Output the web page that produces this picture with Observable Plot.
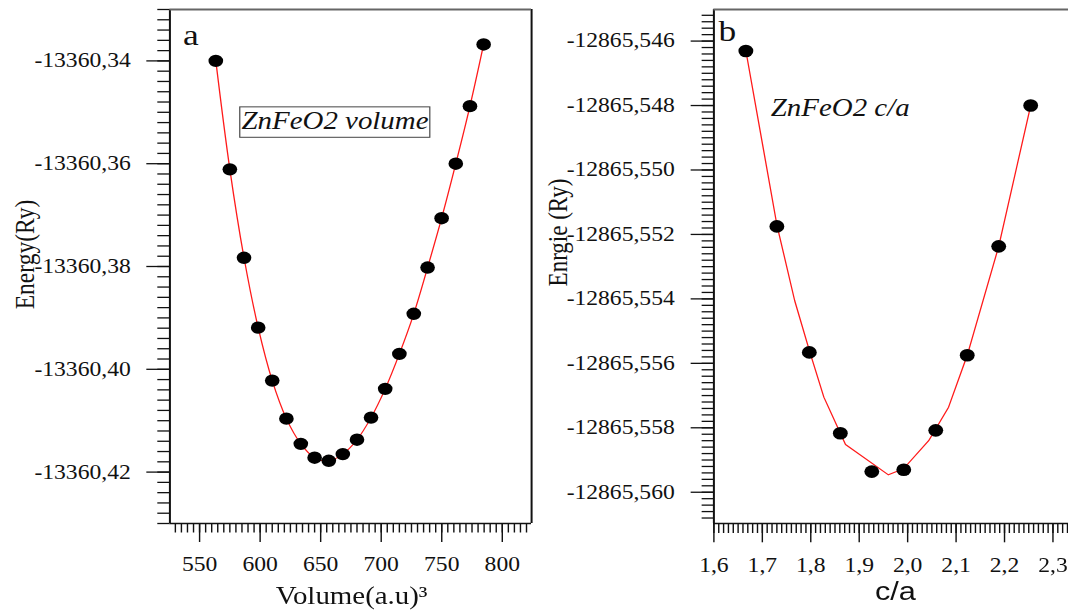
<!DOCTYPE html>
<html><head><meta charset="utf-8">
<script src="https://cdn.jsdelivr.net/npm/d3@7"></script>
<script src="https://cdn.jsdelivr.net/npm/@observablehq/plot@0.6"></script>
<style>
html,body{margin:0;padding:0;background:#fff;overflow:hidden;width:1068px;height:610px}
#wrap{display:flex;flex-wrap:nowrap;width:906px;transform:scaleX(1.18);transform-origin:0 0}
#wrap svg{flex:none;display:block;max-width:none}
</style></head><body><div id="wrap"></div>
<script>
// ---- Panel a data ----
const volume = [563.4, 575.0, 586.7, 598.4, 610.0, 621.7, 633.6, 645.0, 656.7, 668.3, 680.0, 691.6, 703.3, 715.0, 726.9, 738.3, 749.9, 761.6, 773.3, 784.6];
const energyVol = [-13360.3400, -13360.3611, -13360.3783, -13360.3919, -13360.4022, -13360.4096, -13360.4145, -13360.4172, -13360.4178, -13360.4165, -13360.4137, -13360.4094, -13360.4038, -13360.3970, -13360.3892, -13360.3802, -13360.3706, -13360.3600, -13360.3488, -13360.3368];
const volDomain = [525.5, 824.2];
const eVolDomain = [-13360.43, -13360.33];
const volTicks = [550, 600, 650, 700, 750, 800];
const volTickLabels = ["550", "600", "650", "700", "750", "800"];
const eVolTicks = [-13360.34, -13360.36, -13360.38, -13360.40, -13360.42];
const eVolTickLabels = ["-13360,34", "-13360,36", "-13360,38", "-13360,40", "-13360,42"];

// ---- Panel b data ----
const ca = [1.666, 1.730, 1.797, 1.861, 1.926, 1.992, 2.058, 2.123, 2.188, 2.254];
const energyCa = [-12865.54631, -12865.55175, -12865.55566, -12865.55817, -12865.55936, -12865.55930, -12865.55808, -12865.55575, -12865.55237, -12865.54800];
const fitCa = [1.666, 1.730, 1.7667, 1.797, 1.827, 1.8717, 1.9603, 1.9915, 2.0434, 2.0845, 2.123, 2.188, 2.254];
const fitE = [-12865.5463, -12865.5517, -12865.55405, -12865.5556, -12865.55705, -12865.55852, -12865.55946, -12865.55927, -12865.5584, -12865.55736, -12865.55575, -12865.55237, -12865.548];
const caDomain = [1.6, 2.3345];
const eCaDomain = [-12865.56097, -12865.54502];
const caTicks = [1.6, 1.7, 1.8, 1.9, 2.0, 2.1, 2.2, 2.3];
const caTickLabels = ["1,6", "1,7", "1,8", "1,9", "2,0", "2,1", "2,2", "2,3"];
const eCaTicks = [-12865.546, -12865.548, -12865.550, -12865.552, -12865.554, -12865.556, -12865.558, -12865.560];
const eCaTickLabels = ["-12865,546", "-12865,548", "-12865,550", "-12865,552", "-12865,554", "-12865,556", "-12865,558", "-12865,560"];

const serif = "'Liberation Serif','Times New Roman',serif";
const sans = "'Liberation Sans',Arial,sans-serif";
const H = 610, MT = 9, MB = 87;
const baseStyle = {fontFamily: serif, fontSize: "20px", color: "#111", background: "white", overflow: "visible"};

const volRows = volume.map((v, i) => ({x: v, y: energyVol[i]}));
const caRows = ca.map((v, i) => ({x: v, y: energyCa[i]}));
const fitRows = fitCa.map((v, i) => ({x: v, y: fitE[i]}));

const volMinor = d3.ticks(volDomain[0], volDomain[1], 60);
const eVolMinor = d3.ticks(eVolDomain[0], eVolDomain[1], 50);
const caMinor = d3.ticks(caDomain[0], caDomain[1], 73);
const eCaMinor = d3.ticks(eCaDomain[0], eCaDomain[1], 80);

const plotA = Plot.plot({
  width: 458, height: H, marginLeft: 143.5, marginRight: 8, marginTop: MT, marginBottom: MB,
  x: {domain: volDomain}, y: {domain: eVolDomain},
  style: baseStyle,
  marks: [
    Plot.axisX(volMinor, {tickSize: 9.5, fill: "none", label: null, strokeWidth: 1.2}),
    Plot.axisX(volTicks, {tickSize: 19, tickPadding: 14.5, label: null, strokeWidth: 1.2,
      tickFormat: d => volTickLabels[volTicks.indexOf(d)]}),
    Plot.axisY(eVolMinor, {tickSize: 10.2, fill: "none", label: null, strokeWidth: 1.3}),
    Plot.axisY(eVolTicks, {tickSize: 19.5, tickPadding: 13.7, label: null, strokeWidth: 1.3,
      tickFormat: d => eVolTickLabels[eVolTicks.indexOf(d)]}),
    Plot.ruleY([eVolDomain[0]], {stroke: "#111", strokeWidth: 1.5}),
    Plot.ruleX(volDomain, {stroke: "#111", strokeWidth: 1.7}),
    Plot.ruleY([eVolDomain[1]], {stroke: "#666", strokeWidth: 2.2}),
    Plot.line(volRows, {x: "x", y: "y", stroke: "#ff1a1a", strokeWidth: 1.1, curve: "catmull-rom"}),
    Plot.dot(volRows, {x: "x", y: "y", r: 6.2, fill: "#000", stroke: "none"}),
    Plot.text(["a"], {frameAnchor: "top-left", dx: 11, dy: 35, textAnchor: "start", lineAnchor: "bottom", fontSize: 30}),
    Plot.text(["ZnFeO2 volume"], {frameAnchor: "top-left", dx: 60.7, dy: 119.3, textAnchor: "start", lineAnchor: "bottom", fontSize: 24.5, fontStyle: "italic"}),
    Plot.text(["Energy(Ry)"], {frameAnchor: "left", dx: -122.3, dy: -12, rotate: -90, textAnchor: "middle", lineAnchor: "middle", fontSize: 23.5}),
    Plot.text(["Volume(a.u)³"], {frameAnchor: "bottom", dx: 0.75, dy: 72.5, textAnchor: "middle", lineAnchor: "middle", fontSize: 24.5})
  ]
});

const plotB = Plot.plot({
  width: 448, height: H, marginLeft: 146.5, marginRight: 0, marginTop: MT, marginBottom: MB,
  x: {domain: caDomain}, y: {domain: eCaDomain},
  style: baseStyle,
  marks: [
    Plot.axisX(caMinor, {tickSize: 10, fill: "none", label: null, strokeWidth: 1.2}),
    Plot.axisX(caTicks, {tickSize: 19.3, tickPadding: 14.5, label: null, strokeWidth: 1.2,
      tickFormat: d => caTickLabels[caTicks.indexOf(d)]}),
    Plot.axisY(eCaMinor, {tickSize: 9.9, fill: "none", label: null, strokeWidth: 1.3}),
    Plot.axisY(eCaTicks, {tickSize: 19.2, tickPadding: 14, label: null, strokeWidth: 1.3,
      tickFormat: d => eCaTickLabels[eCaTicks.indexOf(d)]}),
    Plot.ruleY([eCaDomain[0]], {stroke: "#111", strokeWidth: 1.5}),
    Plot.ruleX([caDomain[0]], {stroke: "#111", strokeWidth: 1.7}),
    Plot.ruleY([eCaDomain[1]], {stroke: "#666", strokeWidth: 2.2}),
    Plot.line(fitRows, {x: "x", y: "y", stroke: "#ff1a1a", strokeWidth: 1.1}),
    Plot.dot(caRows, {x: "x", y: "y", r: 6.3, fill: "#000", stroke: "none"}),
    Plot.text(["b"], {frameAnchor: "top-left", dx: 4, dy: 31.7, textAnchor: "start", lineAnchor: "bottom", fontSize: 30}),
    Plot.text(["ZnFeO2 c/a"], {frameAnchor: "top-left", dx: 48.2, dy: 106, textAnchor: "start", lineAnchor: "bottom", fontSize: 24.5, fontStyle: "italic"}),
    Plot.text(["Enrgie (Ry)"], {frameAnchor: "left", dx: -131.6, dy: -34, rotate: -90, textAnchor: "middle", lineAnchor: "middle", fontSize: 23}),
    Plot.text(["c/a"], {frameAnchor: "bottom", dx: 3, dy: 67.7, textAnchor: "middle", lineAnchor: "middle", fontSize: 26, fontFamily: sans})
  ]
});

const wrap = document.getElementById("wrap");
wrap.appendChild(plotA);
wrap.appendChild(plotB);

// box around the "ZnFeO2 volume" annotation
for (const t of plotA.querySelectorAll("text")) {
  if (t.textContent === "ZnFeO2 volume") {
    const b = t.getBBox();
    const r = document.createElementNS("http://www.w3.org/2000/svg", "rect");
    r.setAttribute("x", b.x - 1.5);
    r.setAttribute("y", b.y);
    r.setAttribute("width", b.width + 2.5);
    r.setAttribute("height", b.height + 3);
    r.setAttribute("fill", "none");
    r.setAttribute("stroke", "#444");
    r.setAttribute("stroke-width", 1);
    if (t.getAttribute("transform")) r.setAttribute("transform", t.getAttribute("transform"));
    t.parentNode.insertBefore(r, t);
  }
}
</script></body></html>
